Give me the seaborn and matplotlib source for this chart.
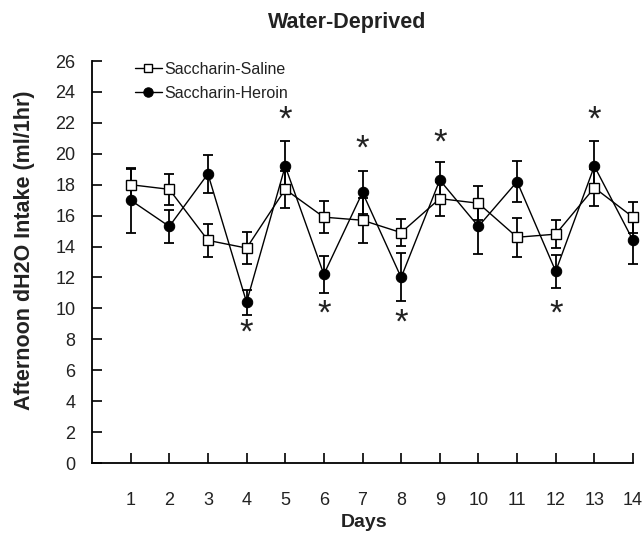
import matplotlib
matplotlib.use("Agg")
import matplotlib.pyplot as plt
import seaborn as sns
import pandas as pd

days = list(range(1, 15))
saline = [18.0, 17.7, 14.4, 13.9, 17.7, 15.9, 15.7, 14.9, 17.1, 16.8, 14.6, 14.8, 17.8, 15.9]
saline_se = [1.0, 1.0, 1.05, 1.05, 1.2, 1.05, 1.45, 0.85, 1.1, 1.1, 1.25, 0.9, 1.2, 1.0]
heroin = [17.0, 15.3, 18.7, 10.4, 19.2, 12.2, 17.5, 12.0, 18.3, 15.3, 18.2, 12.4, 19.2, 14.4]
heroin_se = [2.1, 1.05, 1.25, 0.8, 1.6, 1.2, 1.4, 1.55, 1.2, 1.8, 1.35, 1.05, 1.6, 1.5]
star_days = [4, 5, 6, 7, 8, 9, 12, 13]
star_y = [8.4, 22.2, 9.6, 20.3, 9.05, 20.7, 9.6, 22.2]
y_ticks = list(range(0, 27, 2))
series_names = ["Saccharin-Saline", "Saccharin-Heroin"]

sns.set_theme(style="ticks")
plt.rcParams["font.family"] = ["Liberation Sans", "DejaVu Sans"]

fig = plt.figure(figsize=(6.44, 5.35), dpi=100)
ax = fig.add_axes([92 / 644, 1 - 463 / 535, 541 / 644, 402 / 535])

df_s = pd.DataFrame({"Day": days, "Intake": saline})
df_h = pd.DataFrame({"Day": days, "Intake": heroin})

ax.errorbar(days, heroin, yerr=heroin_se, fmt="none", ecolor="black",
            elinewidth=1.3, capsize=3.5, capthick=1.3, zorder=2, clip_on=False)
ax.errorbar(days, saline, yerr=saline_se, fmt="none", ecolor="black",
            elinewidth=1.3, capsize=3.5, capthick=1.3, zorder=2, clip_on=False)

sns.lineplot(data=df_h, x="Day", y="Intake", ax=ax, color="black", marker="o",
             markersize=7.5, markerfacecolor="black", markeredgecolor="black",
             linewidth=1.0, label=series_names[1], zorder=3, clip_on=False)
sns.lineplot(data=df_s, x="Day", y="Intake", ax=ax, color="black", marker="s",
             markersize=7, markerfacecolor="white", markeredgecolor="black",
             markeredgewidth=1.0, linewidth=1.0, label=series_names[0], zorder=4,
             clip_on=False)

for d, yv in zip(star_days, star_y):
    ax.text(d, yv, "*", ha="center", va="center", fontsize=25, color="#222222")

ax.set_xlim(0, 14)
ax.set_ylim(0, 26)
ax.set_xticks(days)
ax.set_xticklabels([str(d) for d in days])
ax.set_yticks(y_ticks)
ax.set_yticklabels([str(v) for v in y_ticks])
ax.tick_params(axis="both", direction="in", length=7, width=1.2, color="black",
               labelcolor="#222222", labelsize=13)
ax.tick_params(axis="x", pad=21)
ax.tick_params(axis="y", pad=12)

sns.despine(ax=ax)
for sp in ("left", "bottom"):
    ax.spines[sp].set_color("black")
    ax.spines[sp].set_linewidth(1.3)

ax.set_xlabel("Days", fontsize=14, fontweight="bold", color="#222222")
ax.xaxis.set_label_coords(0.502, -0.126)
ax.set_ylabel("Afternoon dH2O Intake (ml/1hr)", fontsize=15.5, fontweight="bold",
              color="#222222")
ax.yaxis.set_label_coords(-0.105, 0.53)
ax.set_title("Water-Deprived", fontsize=15.5, fontweight="bold", color="#222222",
             x=0.471, y=1.083, pad=0)

handles, labels = ax.get_legend_handles_labels()
order = [labels.index(n) for n in series_names]
leg = ax.legend([handles[i] for i in order], [labels[i] for i in order],
                loc="upper left", bbox_to_anchor=(0.079, 0.998), frameon=False,
                fontsize=11.5, handlelength=1.7, handletextpad=0.15,
                labelspacing=0.55, borderpad=0, borderaxespad=0, markerscale=0.9)
for t in leg.get_texts():
    t.set_color("#222222")

fig.savefig("out.png", dpi=100)
